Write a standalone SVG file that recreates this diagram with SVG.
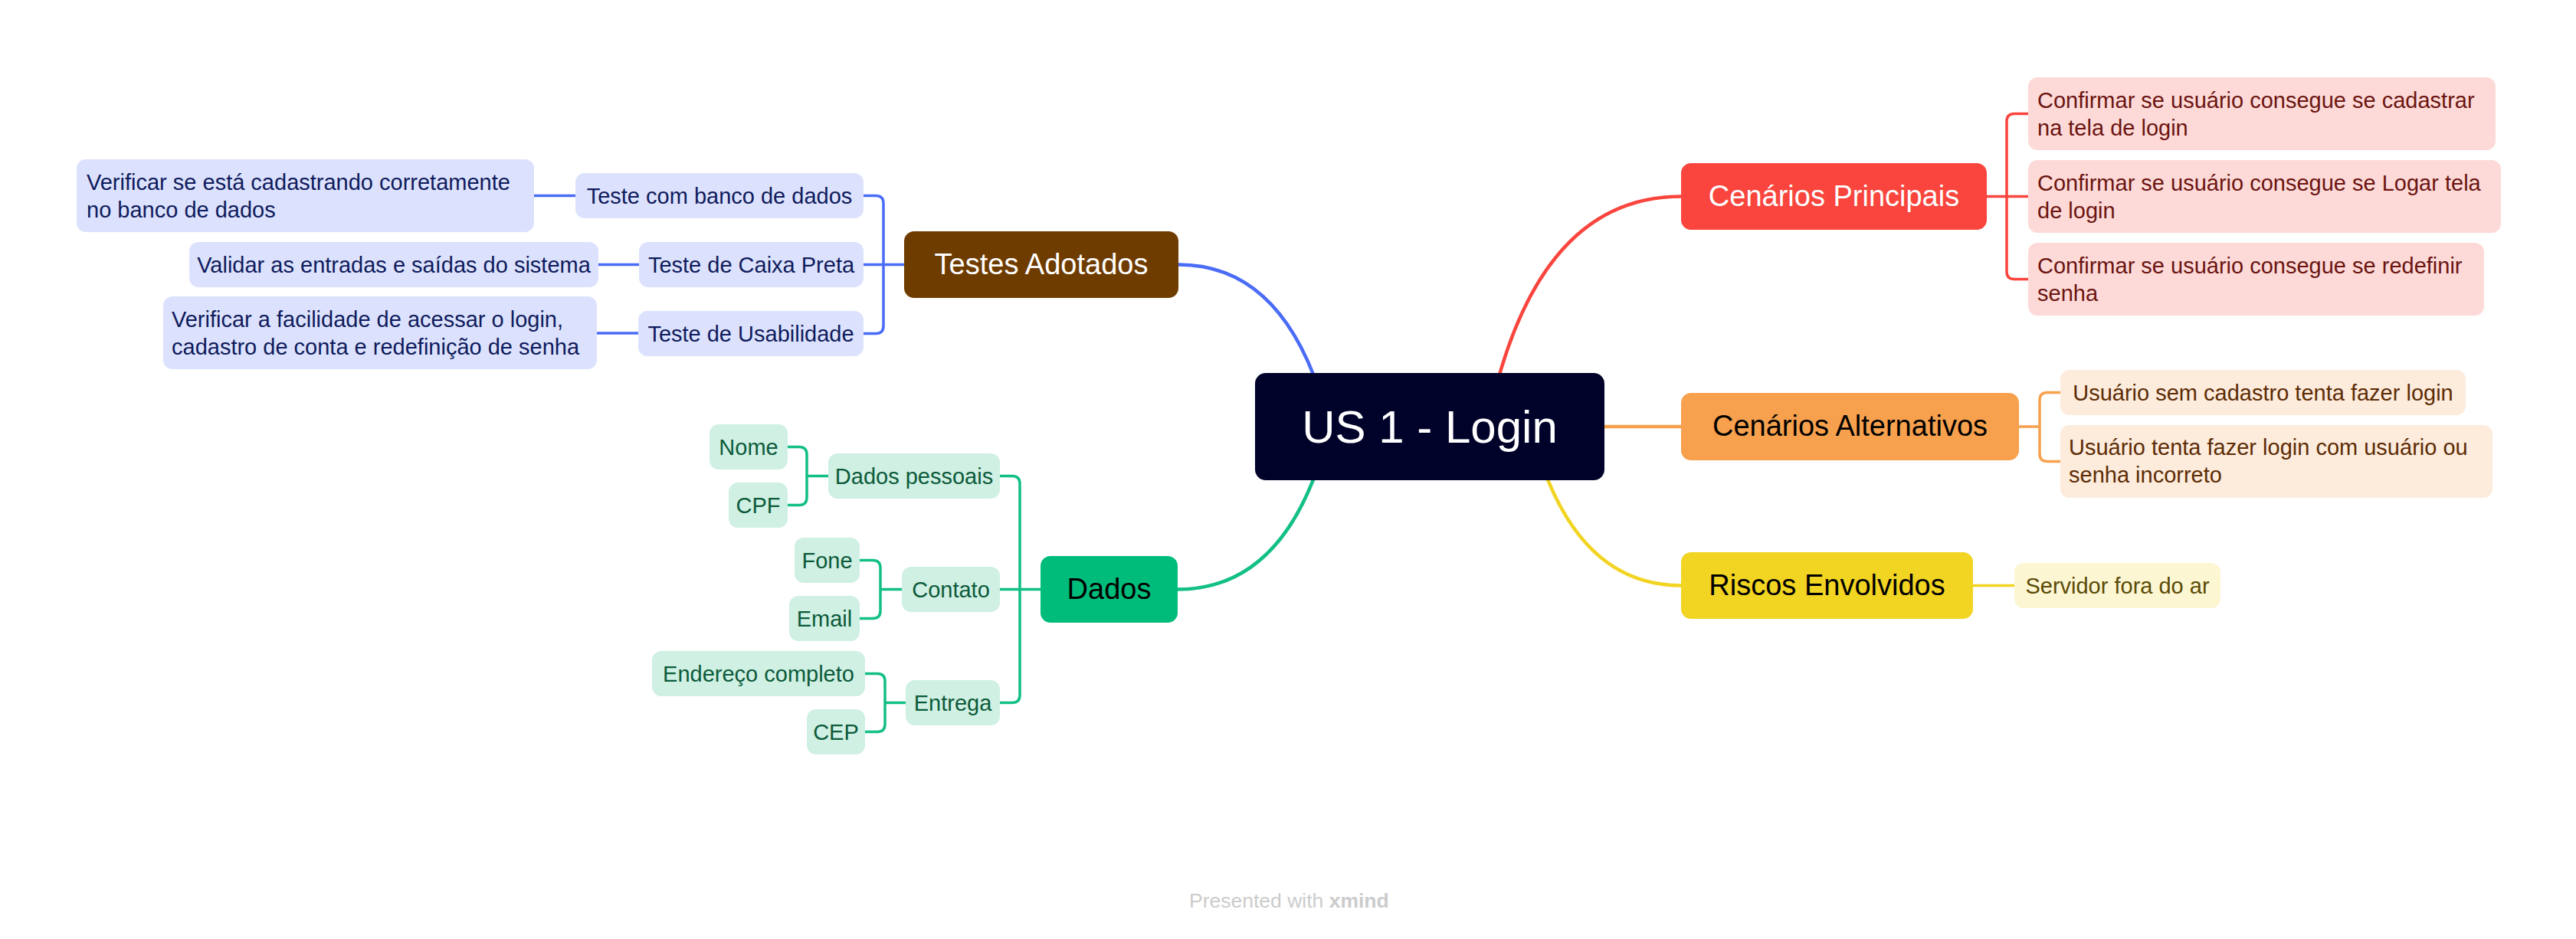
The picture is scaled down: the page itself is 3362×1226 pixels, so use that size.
<svg xmlns="http://www.w3.org/2000/svg" width="3362" height="1226" viewBox="0 0 3362 1226">
<style>
text{font-family:"Liberation Sans",Arial,sans-serif}
.root{font-size:60px;fill:#ffffff;text-anchor:middle}
.main{font-size:38px;text-anchor:middle}
.sub{font-size:29px}
.c{text-anchor:middle}
.ln{fill:none;stroke-linecap:round;stroke-linejoin:round}
.mainln{stroke-width:4.5}
.subln{stroke-width:3.5}
.red{stroke:#F9453D}.org{stroke:#F7A14E}.yel{stroke:#F2D422}.blu{stroke:#4A6CF7}.grn{stroke:#12BF86}
.redf{fill:#FDDAD8}.redt{fill:#6B1410}
.orgf{fill:#FDEBDC}.orgt{fill:#5C2C05}
.yelf{fill:#FDF6D3}.yelt{fill:#5A4A05}
.bluf{fill:#DCE2FD}.blut{fill:#0F1B5C}
.grnf{fill:#CFF0E3}.grnt{fill:#0C5A3A}
.foot{font-size:26.5px;fill:#cccccc}
</style>
<rect x="0" y="0" width="3362" height="1226" fill="#ffffff"/>
<g id="connectors">
  <path class="ln mainln blu" d="M1538,345.5 Q1670,345.5 1725,520"/>
  <path class="ln mainln grn" d="M1537,769.5 Q1670,769.5 1725,595"/>
  <path class="ln mainln red" d="M2194,256.5 Q2000,256.5 1940,560"/>
  <path class="ln mainln yel" d="M2194,764.5 Q2062,764.5 2007,590"/>
  <path class="ln mainln org" d="M2090,557 H2194"/>
  <path class="ln subln red" d="M2593,256.5 H2647 M2647,148.5 H2629 Q2619,148.5 2619,158.5 V354.5 Q2619,364.5 2629,364.5 H2647"/>
  <path class="ln subln org" d="M2635,557 H2662 M2689,512.5 H2672 Q2662,512.5 2662,522.5 V592.5 Q2662,602.5 2672,602.5 H2689"/>
  <path class="ln subln yel" d="M2575,764.5 H2629"/>
  <path class="ln subln blu" d="M1180,345.5 H1127 M1127,255.5 H1143 Q1153,255.5 1153,265.5 V425.5 Q1153,435.5 1143,435.5 H1127"/>
  <path class="ln subln blu" d="M697,255.5 H751 M781,345.5 H834 M779,435 H833"/>
  <path class="ln subln grn" d="M1358,769.5 H1305 M1305,621.5 H1321 Q1331,621.5 1331,631.5 V907.5 Q1331,917.5 1321,917.5 H1305"/>
  <path class="ln subln grn" d="M1081,621.5 H1053 M1028,583.5 H1043 Q1053,583.5 1053,593.5 V649.5 Q1053,659.5 1043,659.5 H1028"/>
  <path class="ln subln grn" d="M1177,769.5 H1149 M1122,731.5 H1139 Q1149,731.5 1149,741.5 V797.5 Q1149,807.5 1139,807.5 H1122"/>
  <path class="ln subln grn" d="M1182,917.5 H1155 M1129,879.5 H1145 Q1155,879.5 1155,889.5 V945.5 Q1155,955.5 1145,955.5 H1129"/>
</g>
<g id="root">
  <rect x="1638" y="487" width="456" height="140" rx="14" fill="#000229"/>
  <text class="root" x="1866" y="578">US 1 - Login</text>
</g>
<g id="cenarios-principais">
  <rect x="2194" y="213" width="399" height="87" rx="13" fill="#F9453D"/>
  <text class="main" x="2393.5" y="268.5" fill="#ffffff">Cenários Principais</text>
</g>
<g id="cp-1">
  <rect class="redf" x="2647" y="101" width="610" height="95" rx="12"/>
  <text class="sub redt" x="2659" y="141">Confirmar se usuário consegue se cadastrar</text>
  <text class="sub redt" x="2659" y="177">na tela de login</text>
</g>
<g id="cp-2">
  <rect class="redf" x="2647" y="209" width="617" height="95" rx="12"/>
  <text class="sub redt" x="2659" y="249">Confirmar se usuário consegue se Logar tela</text>
  <text class="sub redt" x="2659" y="285">de login</text>
</g>
<g id="cp-3">
  <rect class="redf" x="2647" y="317" width="595" height="95" rx="12"/>
  <text class="sub redt" x="2659" y="357">Confirmar se usuário consegue se redefinir</text>
  <text class="sub redt" x="2659" y="393">senha</text>
</g>
<g id="cenarios-alternativos">
  <rect x="2194" y="513" width="441" height="88" rx="13" fill="#F7A14E"/>
  <text class="main" x="2414.5" y="569" fill="#000000">Cenários Alternativos</text>
</g>
<g id="ca-1">
  <rect class="orgf" x="2689" y="483" width="529" height="59" rx="12"/>
  <text class="sub orgt c" x="2953.5" y="522.5">Usuário sem cadastro tenta fazer login</text>
</g>
<g id="ca-2">
  <rect class="orgf" x="2689" y="555" width="564" height="95" rx="12"/>
  <text class="sub orgt" x="2700" y="594">Usuário tenta fazer login com usuário ou</text>
  <text class="sub orgt" x="2700" y="630">senha incorreto</text>
</g>
<g id="riscos-envolvidos">
  <rect x="2194" y="721" width="381" height="87" rx="13" fill="#F2D422"/>
  <text class="main" x="2384.5" y="776.5" fill="#000000">Riscos Envolvidos</text>
</g>
<g id="re-1">
  <rect class="yelf" x="2629" y="735" width="269" height="59" rx="12"/>
  <text class="sub yelt c" x="2763.5" y="774.5">Servidor fora do ar</text>
</g>
<g id="testes-adotados">
  <rect x="1180" y="302" width="358" height="87" rx="13" fill="#6F3C00"/>
  <text class="main" x="1359" y="357.5" fill="#ffffff">Testes Adotados</text>
</g>
<g id="ta-1">
  <rect class="bluf" x="751" y="226" width="376" height="59" rx="12"/>
  <text class="sub blut c" x="939" y="265.5">Teste com banco de dados</text>
</g>
<g id="ta-1-1">
  <rect class="bluf" x="100" y="208" width="597" height="95" rx="12"/>
  <text class="sub blut" x="113" y="248">Verificar se está cadastrando corretamente</text>
  <text class="sub blut" x="113" y="284">no banco de dados</text>
</g>
<g id="ta-2">
  <rect class="bluf" x="834" y="316" width="293" height="59" rx="12"/>
  <text class="sub blut c" x="980.5" y="355.5">Teste de Caixa Preta</text>
</g>
<g id="ta-2-1">
  <rect class="bluf" x="247" y="316" width="534" height="59" rx="12"/>
  <text class="sub blut c" x="514" y="355.5">Validar as entradas e saídas do sistema</text>
</g>
<g id="ta-3">
  <rect class="bluf" x="833" y="406" width="294" height="59" rx="12"/>
  <text class="sub blut c" x="980" y="445.5">Teste de Usabilidade</text>
</g>
<g id="ta-3-1">
  <rect class="bluf" x="213" y="387" width="566" height="95" rx="12"/>
  <text class="sub blut" x="224" y="427">Verificar a facilidade de acessar o login,</text>
  <text class="sub blut" x="224" y="463">cadastro de conta e redefinição de senha</text>
</g>
<g id="dados">
  <rect x="1358" y="726" width="179" height="87" rx="13" fill="#00BC7B"/>
  <text class="main" x="1447.5" y="781.5" fill="#000000">Dados</text>
</g>
<g id="d-pessoais">
  <rect class="grnf" x="1081" y="592" width="224" height="59" rx="12"/>
  <text class="sub grnt c" x="1193" y="631.5">Dados pessoais</text>
</g>
<g id="d-nome">
  <rect class="grnf" x="926" y="554" width="102" height="59" rx="12"/>
  <text class="sub grnt c" x="977" y="593.5">Nome</text>
</g>
<g id="d-cpf">
  <rect class="grnf" x="951" y="630" width="77" height="59" rx="12"/>
  <text class="sub grnt c" x="989.5" y="669.5">CPF</text>
</g>
<g id="d-contato">
  <rect class="grnf" x="1177" y="740" width="128" height="59" rx="12"/>
  <text class="sub grnt c" x="1241" y="779.5">Contato</text>
</g>
<g id="d-fone">
  <rect class="grnf" x="1037" y="702" width="85" height="59" rx="12"/>
  <text class="sub grnt c" x="1079.5" y="741.5">Fone</text>
</g>
<g id="d-email">
  <rect class="grnf" x="1030" y="778" width="92" height="59" rx="12"/>
  <text class="sub grnt c" x="1076" y="817.5">Email</text>
</g>
<g id="d-entrega">
  <rect class="grnf" x="1182" y="888" width="123" height="59" rx="12"/>
  <text class="sub grnt c" x="1243.5" y="927.5">Entrega</text>
</g>
<g id="d-endereco">
  <rect class="grnf" x="851" y="850" width="278" height="59" rx="12"/>
  <text class="sub grnt c" x="990" y="889.5">Endereço completo</text>
</g>
<g id="d-cep">
  <rect class="grnf" x="1053" y="926" width="76" height="59" rx="12"/>
  <text class="sub grnt c" x="1091" y="965.5">CEP</text>
</g>
<g id="footer">
  <text class="foot" x="1552" y="1185">Presented with <tspan font-weight="bold">xmind</tspan></text>
</g>
</svg>
